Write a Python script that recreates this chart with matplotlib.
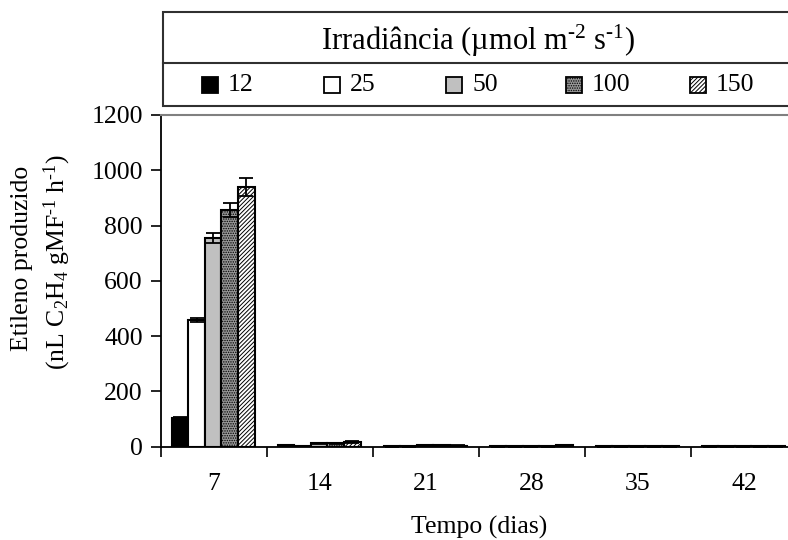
import matplotlib
matplotlib.use("Agg")
import matplotlib.pyplot as plt
from matplotlib.patches import Rectangle
from matplotlib.lines import Line2D
import numpy as np

plt.rcParams['font.family'] = ['Liberation Serif', 'DejaVu Serif']
plt.rcParams['mathtext.fontset'] = 'custom'
plt.rcParams['mathtext.rm'] = 'Liberation Serif'
plt.rcParams['mathtext.it'] = 'Liberation Serif:italic'
plt.rcParams['hatch.linewidth'] = 0.7

days = ['7', '14', '21', '28', '35', '42']
series_labels = ['12', '25', '50', '100', '150']
v12 = [104, 5, 1, 1, 1, 1]
v25 = [457, 3, 1, 1, 1, 1]
v50 = [755, 12, 5, 1, 1, 1]
v100 = [855, 12, 5, 1, 1, 1]
v150 = [940, 18, 4, 6, 1, 1]
e12 = [3, 1, 0.5, 0.5, 0.5, 0.5]
e25 = [7, 1, 0.5, 0.5, 0.5, 0.5]
e50 = [17, 2, 1, 0.5, 0.5, 0.5]
e100 = [25, 2, 1, 0.5, 0.5, 0.5]
e150 = [33, 3, 1, 1, 0.5, 0.5]
yticks = [0, 200, 400, 600, 800, 1000, 1200]

values = [v12, v25, v50, v100, v150]
errors = [e12, e25, e50, e100, e150]
styles = [
    dict(facecolor='black', hatch=None),
    dict(facecolor='white', hatch=None),
    dict(facecolor='#c0c0c0', hatch=None),
    dict(facecolor='#999999', hatch='.......'),
    dict(facecolor='white', hatch='////////'),
]

FS = 18.5
W, H = 788, 540
fig = plt.figure(figsize=(W / 100, H / 100), dpi=100)
ax = fig.add_axes([161 / W, 1 - 446.7 / H, 636 / W, 331.7 / H])

x = np.arange(len(days))
bw = 0.157
for j, (vals, errs, st) in enumerate(zip(values, errors, styles)):
    pos = x + (j - 2) * bw - 0.008
    ax.bar(pos, vals, bw, facecolor=st['facecolor'], hatch=st['hatch'],
           edgecolor='black', linewidth=1.5, zorder=2)
    ax.errorbar(pos, vals, yerr=errs, fmt='none', ecolor='black',
                elinewidth=1.3, capsize=4.7, capthick=1.3, zorder=3)

ax.set_xlim(-0.5, len(days) - 0.5)
ax.set_ylim(0, 1200)
ax.set_yticks(yticks)
ax.set_yticklabels([str(t) for t in yticks], fontsize=FS)
ax.set_xticks(np.arange(len(days) + 1) - 0.5)
ax.set_xticklabels([])
ax.set_xticks(x, minor=True)
ax.set_xticklabels(days, minor=True, fontsize=FS)
ax.tick_params(axis='x', which='minor', length=0, pad=19)
ax.tick_params(axis='x', which='major', length=7, width=1.2, direction='out')
ax.tick_params(axis='y', length=7, width=1.2, direction='out', pad=6)
for s in ['left', 'bottom']:
    ax.spines[s].set_linewidth(1.3)
    ax.spines[s].set_color('black')
ax.spines['top'].set_color('#808080')
ax.spines['top'].set_linewidth(1.5)
ax.spines['right'].set_color('#808080')

ax.set_xlabel('Tempo (dias)', fontsize=FS, labelpad=15)

fig.text(22 / W, 1 - 258 / H, 'Etileno produzido', rotation=90,
         ha='center', va='center', fontsize=FS)
fig.text(57 / W, 1 - 262 / H, '(nL C$_2$H$_4$ gMF$^{\u20101}$ h$^{\u20101}$)', rotation=90,
         ha='center', va='center', fontsize=FS)

def fx(px):
    return px / W

def fy(py):
    return 1 - py / H

box = Rectangle((fx(163), fy(106)), fx(800) - fx(163), fy(11.7) - fy(106),
                transform=fig.transFigure, facecolor='white', edgecolor='#303030',
                linewidth=1.5)
fig.add_artist(box)
fig.add_artist(Line2D([fx(163), fx(800)], [fy(63.3), fy(63.3)],
                      transform=fig.transFigure, color='#303030', linewidth=1.5))
fig.text(fx(478), fy(41), 'Irradiância (µmol m$^{\u20102}$ s$^{\u20101}$)', ha='center', va='center',
         fontsize=22)

marker_x = [202, 324, 446, 566, 690]
for mx, lab, st in zip(marker_x, series_labels, styles):
    fig.add_artist(Rectangle((fx(mx), fy(93)), 16 / W, 16 / H, transform=fig.transFigure,
                             facecolor=st['facecolor'], hatch=st['hatch'],
                             edgecolor='black', linewidth=1.3))
    fig.text(fx(mx + 26), fy(85), lab, ha='left', va='center', fontsize=FS)

fig.savefig('out.png', dpi=100)
